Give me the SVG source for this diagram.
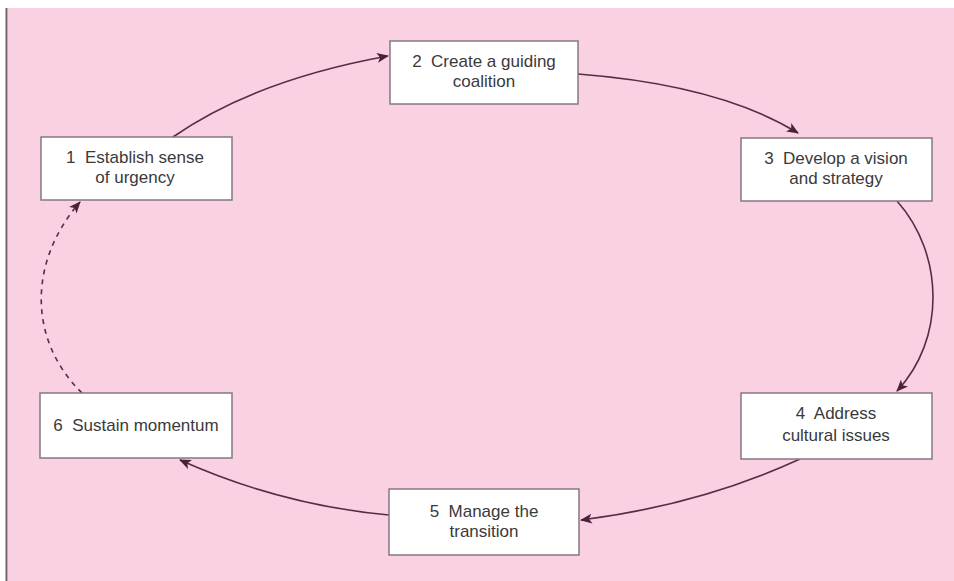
<svg xmlns="http://www.w3.org/2000/svg" width="954" height="581" viewBox="0 0 954 581">
<style>
.box{fill:#ffffff;stroke:#857880;stroke-width:1.5}
.lbl{font-family:"Liberation Sans",Arial,sans-serif;font-size:17px;fill:#3a3a3a;text-anchor:middle}
.con{fill:none;stroke:#5a2c44;stroke-width:1.6}
.dash{stroke-dasharray:5,5}
</style>
<defs>
<marker id="ah" viewBox="0 0 12 10" refX="11" refY="5" markerWidth="12" markerHeight="10" markerUnits="userSpaceOnUse" orient="auto">
<path d="M0,0 L12,5 L0,10 L3,5 Z" fill="#4a2238"/>
</marker>
</defs>
<rect x="0" y="0" width="954" height="581" fill="#ffffff"/>
<rect x="8" y="8" width="946" height="573" fill="#f9d1e3"/>
<line x1="6.5" y1="8" x2="6.5" y2="581" stroke="#6e6068" stroke-width="2"/>
<g id="connectors">
<path class="con" d="M173,137 Q255,80 388,56" marker-end="url(#ah)"/>
<path class="con" d="M578,74 Q720,85 798,133" marker-end="url(#ah)"/>
<path class="con" d="M897,201 C945,255 945,340 897,391" marker-end="url(#ah)"/>
<path class="con" d="M800,459 Q700,505 581,520" marker-end="url(#ah)"/>
<path class="con" d="M389,515 Q280,505 180,460" marker-end="url(#ah)"/>
<path class="con dash" d="M82,393 C28,340 28,262 80,202" marker-end="url(#ah)"/>
</g>
<g id="n1"><rect class="box" x="41" y="137" width="191" height="63"/><text class="lbl" x="135" y="163">1&#160; Establish sense</text><text class="lbl" x="135" y="183">of urgency</text></g>
<g id="n2"><rect class="box" x="390" y="41" width="188" height="63"/><text class="lbl" x="484" y="67">2&#160; Create a guiding</text><text class="lbl" x="484" y="87">coalition</text></g>
<g id="n3"><rect class="box" x="741" y="138" width="191" height="63"/><text class="lbl" x="836" y="164">3&#160; Develop a vision</text><text class="lbl" x="836" y="184">and strategy</text></g>
<g id="n4"><rect class="box" x="741" y="393" width="191" height="66"/><text class="lbl" x="836" y="419">4&#160; Address</text><text class="lbl" x="836" y="441">cultural issues</text></g>
<g id="n5"><rect class="box" x="389" y="489" width="190" height="66"/><text class="lbl" x="484" y="517">5&#160; Manage the</text><text class="lbl" x="484" y="537">transition</text></g>
<g id="n6"><rect class="box" x="40" y="393" width="192" height="65"/><text class="lbl" x="136" y="431">6&#160; Sustain momentum</text></g>
</svg>
